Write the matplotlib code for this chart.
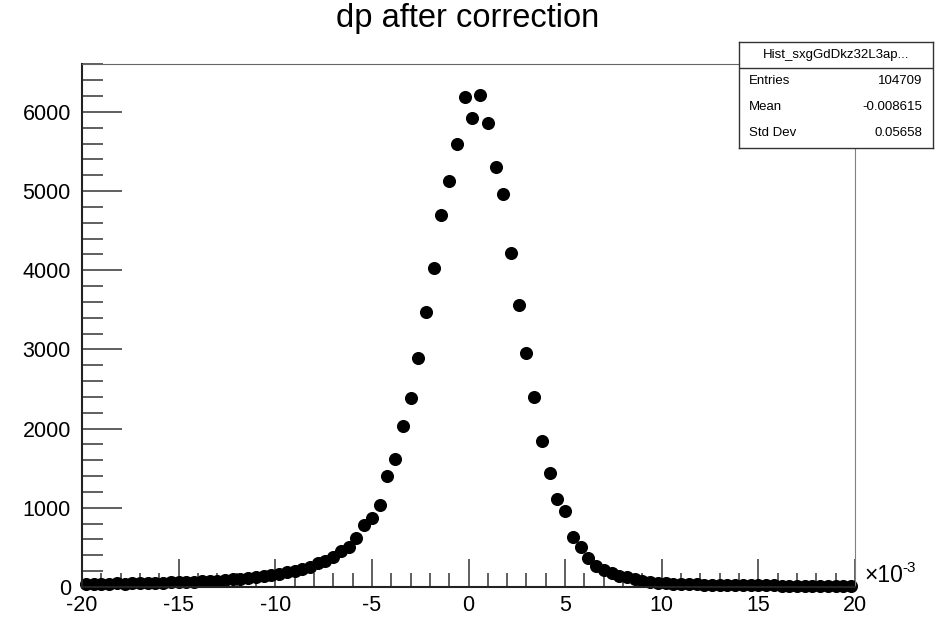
import numpy as np
import matplotlib
matplotlib.use("Agg")
import matplotlib.pyplot as plt

plt.rcParams['font.family'] = ['Liberation Sans', 'DejaVu Sans']
plt.rcParams['axes.unicode_minus'] = False

# bin centres in units of 1e-3 (100 bins over -20..20)
x_lo, x_hi, n_bins = -20.0, 20.0, 100
bin_width = (x_hi - x_lo) / n_bins
centres = x_lo + bin_width * (np.arange(n_bins) + 0.5)

# counts, left to right
counts = [40, 42, 41, 44, 45, 44, 48, 50, 52, 54,
          56, 58, 60, 62, 66, 70, 74, 80, 88, 96,
          105, 115, 128, 140, 152, 168, 185, 206, 223, 256,
          299, 332, 383, 455, 509, 623, 783, 868, 1036, 1402,
          1617, 2033, 2390, 2893, 3474, 4029, 4699, 5128, 5596, 6190,
          5924, 6210, 5861, 5305, 4964, 4219, 3562, 2956, 2400, 1844,
          1435, 1115, 960, 630, 501, 362, 265, 215, 173, 139,
          122, 97, 78, 67, 54, 48, 42, 38, 35, 32,
          30, 28, 27, 25, 24, 22, 22, 20, 20, 19,
          18, 18, 17, 17, 16, 16, 15, 15, 15, 14]

title = "dp after correction"
stats_name = "Hist_sxgGdDkz32L3ap..."
stats_rows = [("Entries", "104709"), ("Mean", "-0.008615"), ("Std Dev", "0.05658")]

W, H = 936, 620
fig = plt.figure(figsize=(W / 100, H / 100), dpi=100)
ax = fig.add_axes([82 / W, 1 - 587 / H, (855 - 82) / W, (587 - 64) / H])

ax.plot(centres, counts, 'o', color='black', ms=8.4, clip_on=False)

ax.set_xlim(x_lo, x_hi)
ax.set_ylim(0, 6606)
ax.set_xticks(np.arange(-20, 21, 5))
ax.set_xticks(np.arange(-20, 21, 1), minor=True)
ax.set_yticks(np.arange(0, 6001, 1000))
ax.set_yticks(np.arange(0, 6601, 200), minor=True)

tick_col = '#444444'
ax.tick_params(axis='x', which='major', direction='in', length=20, width=1.2,
               color=tick_col, labelsize=15.5, pad=6, top=False)
ax.tick_params(axis='x', which='minor', direction='in', length=10, width=1.2,
               color=tick_col, top=False)
ax.tick_params(axis='y', which='major', direction='in', length=29, width=1.2,
               color=tick_col, labelsize=15.5, pad=8, right=False)
ax.tick_params(axis='y', which='minor', direction='in', length=15, width=1.2,
               color=tick_col, right=False)

ax.spines['left'].set_color('#222222')
ax.spines['bottom'].set_color('#222222')
ax.spines['left'].set_linewidth(1.5)
ax.spines['bottom'].set_linewidth(1.5)
ax.spines['top'].set_color('#666666')
ax.spines['right'].set_color('#808080')

fig.text(0.5, 1 - 18 / H, title, ha='center', va='center', fontsize=23.5)
fig.text(864 / W, 1 - 576 / H, "×10", ha='left', va='center', fontsize=16.5)
fig.text(902 / W, 1 - 568 / H, "-3", ha='left', va='center', fontsize=11)

# stats box
bx = fig.add_axes([739 / W, 1 - 148 / H, 194 / W, 106 / H])
bx.set_xlim(0, 1)
bx.set_ylim(0, 1)
bx.set_xticks([])
bx.set_yticks([])
for s in bx.spines.values():
    s.set_color('#333333')
    s.set_linewidth(1)
bx.axhline(0.755, color='#333333', lw=1)
bx.text(0.5, 0.877, stats_name, ha='center', va='center', fontsize=9.5)
for i, (k, v) in enumerate(stats_rows):
    yy = 0.632 - i * 0.245
    bx.text(0.05, yy, k, ha='left', va='center', fontsize=9.5)
    bx.text(0.945, yy, v, ha='right', va='center', fontsize=9.5)

fig.savefig("out.png", dpi=100)
